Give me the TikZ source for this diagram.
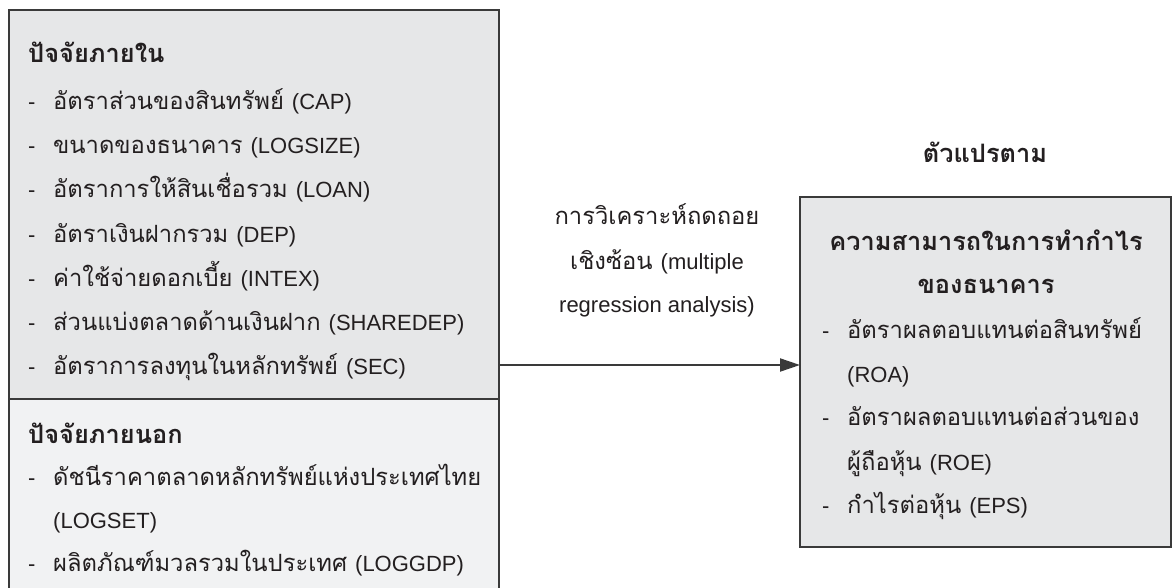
\documentclass[tikz,border=0pt]{standalone}
\usepackage{fontspec}
\setmainfont[Script=Thai,Scale=1.08]{Loma}
\newfontfamily\lat{Liberation Sans}
\usetikzlibrary{arrows.meta}
\definecolor{edge}{HTML}{3A3A3A}
\definecolor{upperfill}{HTML}{E6E7E8}
\definecolor{lowerfill}{HTML}{F1F2F3}
\definecolor{ink}{HTML}{231F20}
\newcommand{\en}[1]{{\lat #1}}
\newcommand{\bul}{\makebox[25pt][l]{\lat -}}
\newcommand{\ind}{\hspace*{25pt}}

\begin{document}
\begin{tikzpicture}[x=1pt,y=-1pt,
  txt/.style={anchor=base west, inner sep=0pt, text=ink,
    font=\fontsize{22}{26}\selectfont},
  mid/.style={txt, anchor=base},
  head/.style={txt, font=\fontsize{23.5}{27}\selectfont\bfseries},
  midhead/.style={head, anchor=base},
  panel/.style={draw=edge, line width=2pt, anchor=north west,
    inner sep=0pt, outer sep=0pt}]
\useasboundingbox (0,0) rectangle (1172,588);
\fill[white] (0,0) rectangle (1172,588);

% factor panels on the left
\node[panel, fill=upperfill, minimum width=490pt, minimum height=389pt] (inner) at (9,10) {};
\node[panel, fill=lowerfill, minimum width=490pt, minimum height=201pt] (outer) at (9,399) {};
% dependent variable panel
\node[panel, fill=upperfill, minimum width=371pt, minimum height=350pt] (target) at (800,197) {};

% internal factors
\node[head] (ih) at (28,63) {ปัจจัยภายใน};
\node[txt] (i1) at (28,110) {\bul อัตราส่วนของสินทรัพย์ \en{(CAP)}};
\node[txt] (i2) at (28,154) {\bul ขนาดของธนาคาร \en{(LOGSIZE)}};
\node[txt] (i3) at (28,198) {\bul อัตราการให้สินเชื่อรวม \en{(LOAN)}};
\node[txt] (i4) at (28,242) {\bul อัตราเงินฝากรวม \en{(DEP)}};
\node[txt] (i5) at (28,286) {\bul ค่าใช้จ่ายดอกเบี้ย \en{(INTEX)}};
\node[txt] (i6) at (28,330) {\bul ส่วนแบ่งตลาดด้านเงินฝาก \en{(SHAREDEP)}};
\node[txt] (i7) at (28,374) {\bul อัตราการลงทุนในหลักทรัพย์ \en{(SEC)}};

% external factors
\node[head] (oh) at (28,443) {ปัจจัยภายนอก};
\node[txt] (o1) at (28,485) {\bul ดัชนีราคาตลาดหลักทรัพย์แห่งประเทศไทย};
\node[txt] (o1b) at (28,528) {\ind\en{(LOGSET)}};
\node[txt] (o2) at (28,571) {\bul ผลิตภัณฑ์มวลรวมในประเทศ \en{(LOGGDP)}};

% method label
\node[mid] (m1) at (657,225) {การวิเคราะห์ถดถอย};
\node[mid] (m2) at (657,269) {เชิงซ้อน \en{(multiple}};
\node[mid] (m3) at (657,312) {\en{regression analysis)}};

% dependent variable
\node[midhead] (dh) at (985,163) {ตัวแปรตาม};
\node[midhead] (t1) at (986,250) {ความสามารถในการทำกำไร};
\node[midhead] (t2) at (986,293) {ของธนาคาร};
\node[txt] (r1) at (822,338) {\bul อัตราผลตอบแทนต่อสินทรัพย์};
\node[txt] (r1b) at (822,382) {\ind\en{(ROA)}};
\node[txt] (r2) at (822,425) {\bul อัตราผลตอบแทนต่อส่วนของ};
\node[txt] (r2b) at (822,470) {\ind ผู้ถือหุ้น \en{(ROE)}};
\node[txt] (r3) at (822,513) {\bul กำไรต่อหุ้น \en{(EPS)}};

% regression arrow
\coordinate (ay) at (0,365);
\draw[edge, line width=2pt, -{Triangle[length=20pt,width=13pt]}]
  (inner.east |- ay) -- (target.west |- ay);
\end{tikzpicture}
\end{document}
